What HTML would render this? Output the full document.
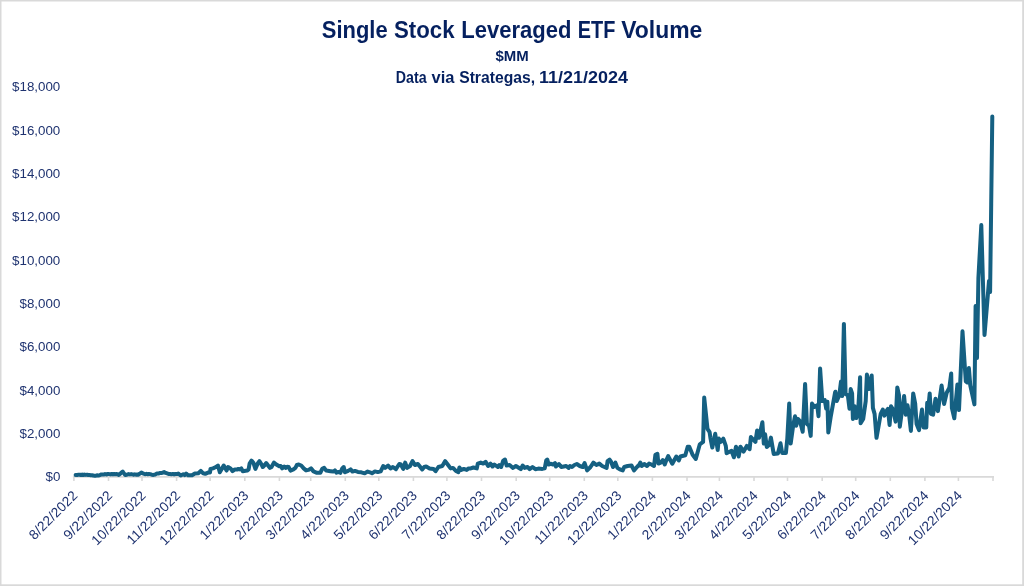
<!DOCTYPE html>
<html><head><meta charset="utf-8"><title>Single Stock Leveraged ETF Volume</title>
<style>
html,body{margin:0;padding:0;background:#fff;}
body{width:1024px;height:586px;overflow:hidden;position:relative;font-family:"Liberation Sans",sans-serif;}
svg{position:absolute;left:0;top:0;}
.tw{font-family:"Liberation Sans",sans-serif;font-weight:bold;fill:#05205f;}
.yl{font-family:"Liberation Sans",sans-serif;font-size:13.33px;fill:#1f3370;text-anchor:end;}
.xl{font-family:"Liberation Sans",sans-serif;font-size:13.7px;letter-spacing:0.18px;fill:#1f3370;text-anchor:end;}
</style></head><body>
<svg width="1024" height="586" viewBox="0 0 1024 586">
<g fill="#d9d9d9"><rect x="0" y="0" width="1024" height="1.5"/><rect x="0" y="0" width="1.5" height="586"/><rect x="1022.2" y="0" width="1.8" height="586"/><rect x="0" y="584.3" width="1024" height="1.7"/></g>
<text class="tw" font-size="24" transform="translate(321.84 37.8) scale(0.9142 1)">Single</text>
<text class="tw" font-size="24" transform="translate(394.04 37.8) scale(0.9261 1)">Stock</text>
<text class="tw" font-size="24" transform="translate(461.37 37.8) scale(0.9182 1)">Leveraged</text>
<text class="tw" font-size="24" transform="translate(577.71 37.8) scale(0.8295 1)">ETF</text>
<text class="tw" font-size="24" transform="translate(621.2 37.8) scale(0.9557 1)">Volume</text>
<text class="tw" font-size="14" transform="translate(495.55 60.8) scale(1.0691 1)">$MM</text>
<text class="tw" font-size="16" transform="translate(395.76 83.3) scale(0.8882 1)">Data</text>
<text class="tw" font-size="16" transform="translate(431.5 83.3) scale(1.0317 1)">via</text>
<text class="tw" font-size="16" transform="translate(459.15 83.3) scale(0.983 1)">Strategas,</text>
<text class="tw" font-size="16" transform="translate(539.03 83.3) scale(1.1252 1)">11/21/2024</text>
<g stroke="#d9d9d9" stroke-width="1.9" fill="none"><path d="M72.9 476.9H994.0"/><path stroke-width="1.6" d="M73.9 476.9v4M108.5 476.9v4M142.0 476.9v4M176.6 476.9v4M210.1 476.9v4M244.8 476.9v4M279.4 476.9v4M310.7 476.9v4M345.3 476.9v4M378.8 476.9v4M413.4 476.9v4M446.9 476.9v4M481.5 476.9v4M516.2 476.9v4M549.7 476.9v4M584.3 476.9v4M617.8 476.9v4M652.4 476.9v4M687.0 476.9v4M719.4 476.9v4M754.0 476.9v4M787.5 476.9v4M822.2 476.9v4M855.7 476.9v4M890.3 476.9v4M924.9 476.9v4M958.4 476.9v4M993.0 476.9v4"/></g>
<text class="yl" x="60.3" y="481.2">$0</text>
<text class="yl" x="60.3" y="437.9">$2,000</text>
<text class="yl" x="60.3" y="394.6">$4,000</text>
<text class="yl" x="60.3" y="351.2">$6,000</text>
<text class="yl" x="60.3" y="307.9">$8,000</text>
<text class="yl" x="60.3" y="264.6">$10,000</text>
<text class="yl" x="60.3" y="221.3">$12,000</text>
<text class="yl" x="60.3" y="177.9">$14,000</text>
<text class="yl" x="60.3" y="134.6">$16,000</text>
<text class="yl" x="60.3" y="91.3">$18,000</text>
<text class="xl" transform="translate(78.6 496.2) rotate(-45)">8/22/2022</text>
<text class="xl" transform="translate(113.2 496.2) rotate(-45)">9/22/2022</text>
<text class="xl" transform="translate(146.7 496.2) rotate(-45)">10/22/2022</text>
<text class="xl" transform="translate(181.3 496.2) rotate(-45)">11/22/2022</text>
<text class="xl" transform="translate(214.8 496.2) rotate(-45)">12/22/2022</text>
<text class="xl" transform="translate(249.5 496.2) rotate(-45)">1/22/2023</text>
<text class="xl" transform="translate(284.1 496.2) rotate(-45)">2/22/2023</text>
<text class="xl" transform="translate(315.4 496.2) rotate(-45)">3/22/2023</text>
<text class="xl" transform="translate(350.0 496.2) rotate(-45)">4/22/2023</text>
<text class="xl" transform="translate(383.5 496.2) rotate(-45)">5/22/2023</text>
<text class="xl" transform="translate(418.1 496.2) rotate(-45)">6/22/2023</text>
<text class="xl" transform="translate(451.6 496.2) rotate(-45)">7/22/2023</text>
<text class="xl" transform="translate(486.2 496.2) rotate(-45)">8/22/2023</text>
<text class="xl" transform="translate(520.9 496.2) rotate(-45)">9/22/2023</text>
<text class="xl" transform="translate(554.4 496.2) rotate(-45)">10/22/2023</text>
<text class="xl" transform="translate(589.0 496.2) rotate(-45)">11/22/2023</text>
<text class="xl" transform="translate(622.5 496.2) rotate(-45)">12/22/2023</text>
<text class="xl" transform="translate(657.1 496.2) rotate(-45)">1/22/2024</text>
<text class="xl" transform="translate(691.7 496.2) rotate(-45)">2/22/2024</text>
<text class="xl" transform="translate(724.1 496.2) rotate(-45)">3/22/2024</text>
<text class="xl" transform="translate(758.7 496.2) rotate(-45)">4/22/2024</text>
<text class="xl" transform="translate(792.2 496.2) rotate(-45)">5/22/2024</text>
<text class="xl" transform="translate(826.9 496.2) rotate(-45)">6/22/2024</text>
<text class="xl" transform="translate(860.4 496.2) rotate(-45)">7/22/2024</text>
<text class="xl" transform="translate(895.0 496.2) rotate(-45)">8/22/2024</text>
<text class="xl" transform="translate(929.6 496.2) rotate(-45)">9/22/2024</text>
<text class="xl" transform="translate(963.1 496.2) rotate(-45)">10/22/2024</text>
<polyline fill="none" stroke="#156082" stroke-width="4" stroke-linejoin="round" stroke-linecap="round" points="75.6,475.1 77.0,475.1 78.4,474.7 79.8,474.7 81.0,475.0 82.2,474.6 83.4,475.0 84.6,474.6 85.9,474.9 87.1,474.7 88.3,475.0 89.5,474.9 90.8,475.3 92.0,475.2 93.2,475.6 94.4,475.7 95.7,475.8 97.0,475.2 98.3,475.4 99.6,475.2 100.9,474.6 102.2,474.4 103.6,474.6 105.0,474.0 106.3,474.5 107.7,474.0 109.1,474.1 110.4,474.4 111.7,474.0 113.0,474.4 114.3,474.0 115.6,474.3 116.9,474.1 118.8,474.9 120.1,473.9 121.4,472.5 122.7,471.5 124.0,473.5 125.2,474.9 126.9,474.7 128.6,474.1 129.9,474.4 131.2,474.1 132.5,474.4 133.7,474.7 134.8,474.3 136.0,474.7 137.2,474.5 138.4,474.7 139.8,473.7 141.3,472.5 142.8,473.4 144.2,473.9 145.4,474.2 146.6,473.8 147.7,474.3 148.9,473.9 150.1,474.1 151.8,474.7 153.5,474.9 155.2,474.5 156.9,473.6 158.3,473.6 159.6,473.1 161.0,473.1 162.6,472.8 164.1,472.1 165.6,472.9 167.2,473.4 168.6,474.0 170.0,474.1 171.4,474.3 172.7,473.9 174.1,474.4 175.5,474.0 176.8,474.1 178.3,473.5 180.7,475.5 183.2,474.3 184.6,475.1 186.1,473.5 188.1,475.3 192.0,475.3 194.9,473.5 198.3,473.3 200.8,470.9 203.2,473.3 205.2,473.8 208.6,472.3 210.0,472.5 210.5,468.9 213.0,468.4 215.4,467.3 217.9,465.5 219.8,472.3 223.7,465.5 226.6,470.6 228.1,467.0 230.5,468.4 232.5,471.2 234.9,469.4 236.9,469.6 238.4,468.9 239.8,469.4 241.3,468.4 242.8,471.2 247.1,470.6 248.6,469.4 249.6,463.6 251.5,460.6 253.5,463.1 255.4,468.9 257.9,463.1 259.4,461.1 261.3,464.0 262.8,467.0 264.7,465.0 266.2,463.1 267.7,465.0 270.0,467.9 271.5,467.0 273.9,462.6 276.3,464.5 279.3,466.3 280.7,466.0 282.2,468.4 284.2,466.5 285.6,467.9 287.1,466.7 288.6,467.0 290.5,470.6 293.4,469.4 295.4,467.9 296.9,465.0 298.8,464.5 301.2,465.5 303.7,468.4 306.1,470.4 308.6,469.9 311.0,468.4 313.5,471.4 316.9,472.8 320.3,472.8 322.2,468.9 324.2,467.9 326.2,470.6 330.5,471.2 333.5,471.6 334.9,470.4 336.4,472.8 338.4,471.9 340.3,472.8 342.3,468.4 343.7,467.0 345.0,472.3 348.1,470.9 350.6,469.4 352.5,471.6 355.0,470.9 357.9,471.9 361.3,472.3 364.7,473.3 367.7,471.6 370.0,472.3 372.0,473.3 374.9,471.4 377.8,472.1 380.7,471.4 383.2,466.0 385.1,467.9 388.1,465.7 390.5,468.4 392.9,467.0 395.9,469.2 399.3,464.0 400.8,464.5 403.2,468.9 405.2,462.6 407.1,467.9 410.0,466.0 412.5,461.1 414.9,465.0 417.9,464.0 420.3,467.0 422.2,469.4 424.2,467.0 426.2,466.5 429.6,468.4 433.5,468.9 435.6,471.2 438.4,467.0 442.3,466.0 445.2,461.1 448.1,465.0 450.6,468.4 453.0,467.9 455.9,470.9 458.4,472.1 459.4,467.5 461.3,469.9 463.8,468.9 466.7,469.9 468.6,468.4 470.0,468.6 473.4,467.5 476.8,468.4 477.8,463.6 480.7,462.6 483.2,463.6 485.6,461.8 488.1,466.0 490.5,463.6 492.5,466.5 494.4,464.5 497.8,467.0 499.3,465.0 501.2,467.0 503.2,460.6 505.0,459.5 506.6,465.5 509.6,465.0 513.0,467.9 515.9,466.0 518.3,467.5 520.8,469.2 522.7,465.5 524.7,467.9 527.6,467.0 529.6,469.2 532.5,467.0 535.4,469.2 538.4,468.6 542.3,468.9 544.7,468.4 546.2,460.6 547.3,459.6 548.6,464.5 551.1,463.8 553.0,464.5 555.0,463.1 555.9,466.5 558.9,464.0 561.3,467.0 563.8,466.5 566.2,466.0 568.6,467.9 570.0,466.0 572.0,467.0 574.4,465.0 576.8,464.0 579.8,466.0 582.7,467.0 584.6,463.1 587.1,470.4 590.5,467.0 593.4,462.6 596.4,465.0 599.3,463.6 602.2,466.0 606.6,467.9 607.6,461.1 609.6,459.6 611.0,461.6 613.0,467.0 615.4,462.6 617.4,467.9 619.8,469.4 622.7,470.4 624.2,467.0 627.6,466.0 631.5,465.5 634.0,470.4 637.4,466.5 638.8,465.5 640.3,462.6 641.8,466.0 644.2,464.0 647.1,466.0 649.1,463.6 651.5,464.5 654.0,466.0 655.4,454.8 657.4,453.8 658.4,463.6 660.8,462.6 662.8,460.1 664.7,464.5 666.2,460.6 668.2,456.1 672.3,463.7 676.3,456.5 678.8,460.5 680.4,456.5 685.3,455.2 687.7,446.7 689.3,446.7 692.6,454.8 695.8,458.9 699.8,444.3 703.1,441.9 704.2,397.5 707.5,428.9 709.6,432.1 710.4,437.8 712.3,447.5 715.2,433.8 717.7,450.0 718.8,438.6 720.9,441.9 723.3,438.6 725.8,445.9 726.6,453.2 731.5,450.8 733.9,457.3 736.0,446.7 738.7,456.5 740.4,446.7 743.6,451.6 746.8,445.9 749.6,449.2 750.9,437.0 755.4,441.9 757.1,430.5 759.0,437.8 762.4,422.3 763.8,443.6 765.1,434.2 766.8,447.0 769.4,444.5 770.9,437.6 773.7,453.9 777.9,453.5 780.5,443.3 782.2,453.0 785.9,453.0 787.3,438.5 789.2,403.5 790.7,443.6 793.3,424.8 795.0,416.3 796.2,425.7 797.9,418.9 800.1,421.4 802.7,431.7 805.1,383.9 806.9,424.0 809.0,425.7 810.7,435.9 812.0,403.5 814.3,406.9 817.2,405.2 818.5,416.3 820.1,368.5 822.3,401.0 824.8,400.1 826.2,408.6 827.4,401.8 828.3,432.5 830.8,416.3 835.1,392.4 835.4,391.7 836.7,401.1 839.3,395.1 841.0,381.5 842.2,396.0 843.9,323.9 845.6,394.2 847.8,395.1 849.5,408.8 850.7,389.1 852.1,393.4 852.9,419.0 854.6,406.2 856.3,418.1 858.0,413.0 860.1,377.2 860.6,423.3 863.2,419.0 865.7,401.1 866.9,374.6 869.1,389.1 871.7,375.5 872.9,407.9 874.6,413.9 876.5,437.8 878.5,426.7 880.7,413.9 882.8,409.6 884.5,415.6 886.2,411.3 887.9,408.8 889.6,425.0 891.0,406.2 893.0,409.6 895.6,421.6 897.3,387.4 899.0,395.1 899.8,426.7 902.4,407.9 904.1,396.0 905.8,414.7 907.5,405.3 909.2,415.6 910.9,430.9 913.2,393.4 915.2,403.6 916.6,424.1 919.0,430.1 922.0,409.6 923.7,427.5 926.3,427.5 927.2,402.8 928.5,406.2 929.7,393.4 930.9,413.9 933.1,414.7 935.5,398.8 937.9,411.1 941.6,385.5 944.1,404.0 946.7,392.7 949.4,387.6 951.2,373.5 951.9,408.1 954.3,418.3 957.4,384.5 959.0,410.1 962.5,331.3 965.8,381.4 967.2,382.5 968.9,368.1 970.3,385.5 974.4,404.4 975.6,306.0 977.0,358.0 978.4,278.0 981.3,225.0 984.5,335.0 985.6,322.0 989.0,281.0 990.1,292.0 991.2,204.0 992.3,116.5"/>
</svg>
</body></html>
